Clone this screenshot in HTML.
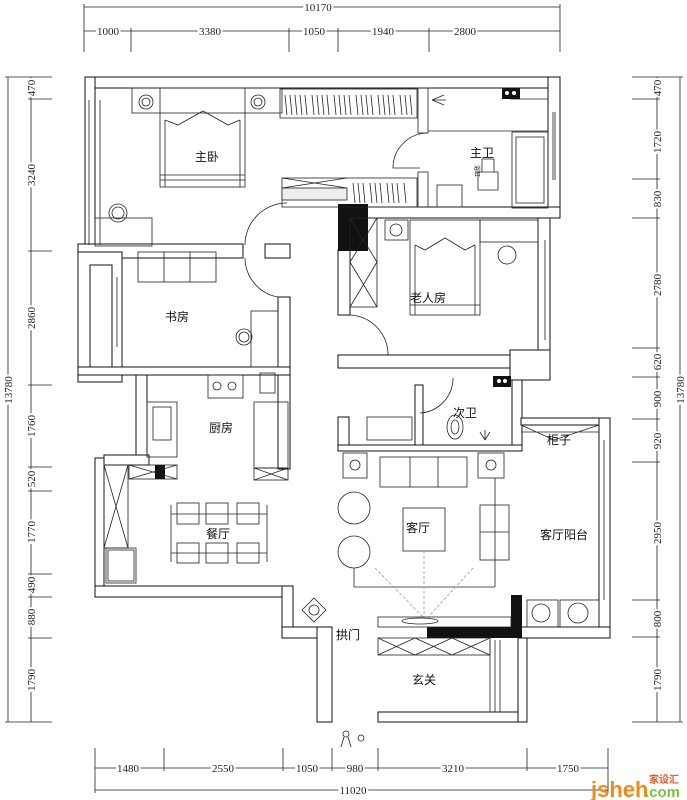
<!DOCTYPE html>
<html><head><meta charset="utf-8"><style>
html,body{margin:0;padding:0;background:#fff;}
svg{display:block;}
.d{font-family:"Liberation Serif",serif;font-size:11px;fill:#222;stroke:#fff;stroke-width:4px;paint-order:stroke;}
.l{font-family:"Liberation Sans","Noto Sans CJK SC",sans-serif;font-size:12px;fill:#111;}
</style></head><body>
<svg width="687" height="800" viewBox="0 0 687 800" xmlns="http://www.w3.org/2000/svg">
<g stroke="#222" stroke-width="0.8" fill="none">
<line x1="84" y1="7" x2="560" y2="7"/>
<line x1="84" y1="31" x2="560" y2="31"/>
<line x1="84" y1="4" x2="84" y2="52"/><line x1="560" y1="4" x2="560" y2="52"/>
<line x1="131" y1="28" x2="131" y2="52"/><line x1="289" y1="28" x2="289" y2="52"/><line x1="338" y1="28" x2="338" y2="52"/><line x1="429" y1="28" x2="429" y2="52"/>
<line x1="95" y1="768" x2="608" y2="768"/>
<line x1="95" y1="790" x2="608" y2="790"/>
<line x1="95" y1="748" x2="95" y2="793"/><line x1="608" y1="748" x2="608" y2="793"/>
<line x1="164" y1="748" x2="164" y2="771"/><line x1="283" y1="748" x2="283" y2="771"/><line x1="332" y1="748" x2="332" y2="771"/><line x1="378" y1="748" x2="378" y2="771"/><line x1="527" y1="748" x2="527" y2="771"/>
<line x1="8" y1="77" x2="8" y2="722"/><line x1="31" y1="77" x2="31" y2="722"/>
<line x1="5" y1="77" x2="52" y2="77"/><line x1="5" y1="722" x2="52" y2="722"/>
<line x1="28" y1="99" x2="52" y2="99"/><line x1="28" y1="251" x2="52" y2="251"/><line x1="28" y1="385" x2="52" y2="385"/><line x1="28" y1="467" x2="52" y2="467"/><line x1="28" y1="491" x2="52" y2="491"/><line x1="28" y1="574" x2="52" y2="574"/><line x1="28" y1="597" x2="52" y2="597"/><line x1="28" y1="638" x2="52" y2="638"/>
<line x1="657" y1="77" x2="657" y2="722"/><line x1="680" y1="77" x2="680" y2="722"/>
<line x1="632" y1="77" x2="683" y2="77"/><line x1="632" y1="722" x2="683" y2="722"/>
<line x1="632" y1="99" x2="660" y2="99"/><line x1="632" y1="179" x2="660" y2="179"/><line x1="632" y1="218" x2="660" y2="218"/><line x1="632" y1="348" x2="660" y2="348"/><line x1="632" y1="377" x2="660" y2="377"/><line x1="632" y1="419" x2="660" y2="419"/><line x1="632" y1="462" x2="660" y2="462"/><line x1="632" y1="600" x2="660" y2="600"/><line x1="632" y1="637" x2="660" y2="637"/>
</g>
<g class="d" text-anchor="middle">
<text x="318" y="11">10170</text>
<text x="108" y="35">1000</text><text x="210" y="35">3380</text><text x="314" y="35">1050</text><text x="383" y="35">1940</text><text x="465" y="35">2800</text>
<text x="128" y="772">1480</text><text x="223" y="772">2550</text><text x="307" y="772">1050</text><text x="355" y="772">980</text><text x="453" y="772">3210</text><text x="568" y="772">1750</text><text x="353" y="794">11020</text>
<text transform="translate(35,88) rotate(-90)">470</text>
<text transform="translate(35,175) rotate(-90)">3240</text>
<text transform="translate(35,318) rotate(-90)">2860</text>
<text transform="translate(35,426) rotate(-90)">1760</text>
<text transform="translate(35,479) rotate(-90)">520</text>
<text transform="translate(35,532) rotate(-90)">1770</text>
<text transform="translate(35,585) rotate(-90)">490</text>
<text transform="translate(35,617) rotate(-90)">880</text>
<text transform="translate(35,680) rotate(-90)">1790</text>
<text transform="translate(12,390) rotate(-90)">13780</text>
<text transform="translate(661,88) rotate(-90)">470</text>
<text transform="translate(661,142) rotate(-90)">1720</text>
<text transform="translate(661,199) rotate(-90)">830</text>
<text transform="translate(661,285) rotate(-90)">2780</text>
<text transform="translate(661,362) rotate(-90)">620</text>
<text transform="translate(661,399) rotate(-90)">900</text>
<text transform="translate(661,441) rotate(-90)">920</text>
<text transform="translate(661,533) rotate(-90)">2950</text>
<text transform="translate(661,619) rotate(-90)">800</text>
<text transform="translate(661,680) rotate(-90)">1790</text>
<text transform="translate(684,390) rotate(-90)">13780</text>
</g>

<g fill="#fff" stroke="#111" stroke-width="1">
<rect x="85" y="77" width="475" height="11"/>
<rect x="85" y="77" width="10" height="170"/>
<rect x="548" y="77" width="12" height="141"/>
<rect x="78" y="244" width="165" height="14"/>
<rect x="265" y="244" width="25" height="14"/>
<rect x="78" y="252" width="44" height="130"/>
<rect x="90" y="265" width="22" height="105"/>
<rect x="278" y="297" width="12" height="172"/>
<rect x="78" y="367" width="212" height="8"/>
<rect x="136" y="375" width="11" height="85"/>
<rect x="338" y="250" width="12" height="65"/>
<rect x="367" y="207" width="193" height="11"/>
<rect x="538" y="218" width="12" height="132"/>
<rect x="338" y="355" width="172" height="13"/>
<rect x="510" y="350" width="40" height="30"/>
<rect x="512" y="380" width="10" height="71"/>
<rect x="338" y="417" width="11" height="34"/>
<rect x="415" y="385" width="8" height="60"/>
<rect x="338" y="445" width="184" height="6"/>
<rect x="95" y="458" width="9" height="139"/>
<rect x="104" y="455" width="45" height="10"/>
<rect x="95" y="586" width="198" height="11"/>
<rect x="282" y="586" width="11" height="52"/>
<rect x="282" y="627" width="50" height="11"/>
<rect x="317" y="627" width="15" height="95"/>
<rect x="378" y="712" width="149" height="10"/>
<rect x="518" y="638" width="9" height="84"/>
<rect x="521" y="418" width="89" height="7"/>
<rect x="599" y="418" width="11" height="220"/>
<rect x="521" y="627" width="89" height="11"/>
</g>
<g fill="#111">
<rect x="338" y="204" width="30" height="47"/>
<rect x="511" y="595" width="11" height="43"/>
<rect x="427" y="627" width="95" height="11"/>
<rect x="502" y="88" width="18" height="11"/>
<rect x="493" y="376" width="18" height="11"/>
<rect x="155" y="465" width="10" height="14"/>
</g>
<g fill="#fff"><circle cx="507" cy="93" r="2"/><circle cx="514" cy="93" r="2"/><circle cx="499" cy="381" r="2"/><circle cx="505" cy="381" r="2"/></g>

<g fill="none" stroke="#222" stroke-width="0.8">
<rect x="132" y="88" width="150" height="25"/>
<rect x="160" y="88" width="85" height="99"/>
<line x1="165" y1="120" x2="165" y2="187"/><line x1="240" y1="120" x2="240" y2="187"/>
<line x1="160" y1="175" x2="245" y2="175"/><line x1="160" y1="180" x2="245" y2="180"/>
<polyline points="165,120 178,125 203,111 228,125 240,120"/>
<circle cx="146" cy="102" r="7"/><circle cx="146" cy="102" r="4"/>
<circle cx="258" cy="102" r="7"/><circle cx="258" cy="102" r="4"/>
<rect x="280" y="89" width="137" height="29"/>
<path d="M285 95 l2 20 M290 95 l2 20 M295 95 l2 20 M300 95 l2 20 M305 95 l2 20 M312 95 l2 20 M317 95 l2 20 M322 95 l2 20 M327 95 l2 20 M334 95 l2 20 M339 95 l2 20 M344 95 l2 20 M349 95 l2 20 M356 95 l2 20 M361 95 l2 20 M366 95 l2 20 M371 95 l2 20 M378 95 l2 20 M383 95 l2 20 M388 95 l2 20 M393 95 l2 20 M400 95 l2 20 M405 95 l2 20 M410 95 l2 20"/>
<rect x="418" y="88" width="10" height="45"/>
<path d="M428 133 A35 35 0 0 0 393 168 L420 168"/>
<line x1="428" y1="131" x2="548" y2="131"/>
<line x1="510" y1="99" x2="548" y2="99"/>
<rect x="512" y="132" width="36" height="76"/><rect x="516" y="137" width="28" height="66"/>
<path d="M432 100 l12 5 M432 100 l12 -5 M432 100 l14 0"/>
<rect x="437" y="185" width="25" height="22"/>
<path d="M478 172 h20 v18 h-20 z M482 172 v-13 h12 v13"/>
<rect x="418" y="172" width="10" height="35"/>
<rect x="282" y="178" width="135" height="29"/>
<path d="M282 178 L347 188 M347 178 L282 188"/>
<rect x="282" y="188" width="65" height="12" fill="#eee"/>
<path d="M353 183 l2 20 M358 183 l2 20 M363 183 l2 20 M370 183 l2 20 M375 183 l2 20 M380 183 l2 20 M387 183 l2 20 M392 183 l2 20 M397 183 l2 20 M404 183 l2 20"/>
<rect x="95" y="218" width="57" height="28"/>
<circle cx="118" cy="213" r="9"/><circle cx="118" cy="213" r="6"/>
<path d="M245 245 A42 42 0 0 1 287 203"/>
<path d="M245 258 A40 40 0 0 0 278 297"/>
<path d="M350 315 A40 40 0 0 1 388 355"/>
<path d="M453 378 A35 35 0 0 1 420 413"/>
<rect x="138" y="252" width="78" height="30"/>
<line x1="164" y1="252" x2="164" y2="282"/><line x1="190" y1="252" x2="190" y2="282"/>
<rect x="251" y="311" width="27" height="56"/>
<circle cx="244" cy="337" r="8"/><circle cx="244" cy="337" r="5"/>
<rect x="350" y="218" width="27" height="89"/>
<path d="M350 218 L377 262 M377 218 L350 262 M350 262 L377 307 M377 262 L350 307"/>
<rect x="385" y="220" width="23" height="20"/><circle cx="396" cy="230" r="6"/>
<rect x="410" y="220" width="70" height="95"/>
<line x1="415" y1="245" x2="415" y2="315"/><line x1="475" y1="245" x2="475" y2="315"/>
<line x1="410" y1="305" x2="480" y2="305"/>
<polyline points="415,245 425,250 445,238 465,250 475,245"/>
<rect x="480" y="220" width="58" height="22"/>
<circle cx="507" cy="255" r="9"/>
<line x1="545" y1="240" x2="545" y2="340"/>
<rect x="208" y="375" width="35" height="23"/>
<circle cx="217" cy="386" r="4"/><circle cx="232" cy="386" r="4"/>
<rect x="260" y="373" width="15" height="20"/>
<rect x="147" y="402" width="30" height="55"/><rect x="153" y="407" width="18" height="33"/>
<rect x="254" y="402" width="34" height="66"/>
<rect x="254" y="468" width="34" height="12"/><path d="M254 468 L288 480 M288 468 L254 480"/>
<rect x="129" y="465" width="48" height="14"/><path d="M129 465 L177 479 M177 465 L129 479"/>
<rect x="104" y="465" width="24" height="83"/><path d="M104 465 L128 548 M128 465 L104 548"/>
<rect x="106" y="548" width="30" height="35"/><rect x="108" y="550" width="26" height="31"/>
<line x1="171" y1="514" x2="267" y2="514"/><line x1="171" y1="553" x2="267" y2="553"/>
<line x1="171" y1="505" x2="171" y2="562"/><line x1="267" y1="505" x2="267" y2="562"/>
<rect x="177" y="503" width="22" height="21"/><rect x="206" y="503" width="22" height="21"/><rect x="237" y="503" width="22" height="21"/>
<rect x="177" y="543" width="22" height="20"/><rect x="206" y="543" width="22" height="20"/><rect x="237" y="543" width="22" height="20"/>
<rect x="367" y="417" width="45" height="23"/>
<ellipse cx="455" cy="427" rx="8" ry="12"/><ellipse cx="455" cy="427" rx="4" ry="7"/>
<path d="M485 440 l-5 -8 M485 440 l5 -8 M485 440 v-10"/>
<rect x="343" y="453" width="24" height="25"/><circle cx="355" cy="465" r="5"/>
<rect x="478" y="453" width="26" height="25"/><circle cx="491" cy="465" r="5"/>
<rect x="380" y="457" width="87" height="30"/>
<line x1="410" y1="457" x2="410" y2="487"/><line x1="438" y1="457" x2="438" y2="487"/>
<circle cx="354" cy="508" r="16"/><circle cx="354" cy="552" r="16"/>
<rect x="403" y="508" width="42" height="43"/>
<rect x="480" y="505" width="29" height="55"/><line x1="480" y1="532" x2="509" y2="532"/>
<line x1="354" y1="587" x2="495" y2="587"/>
<line x1="354" y1="568" x2="354" y2="587"/><line x1="495" y1="478" x2="495" y2="587"/>
<g stroke="#999" stroke-dasharray="3,2"><line x1="375" y1="568" x2="423" y2="617"/><line x1="473" y1="568" x2="428" y2="617"/><line x1="424" y1="551" x2="424" y2="617"/></g>
<rect x="378" y="617" width="133" height="10"/>
<ellipse cx="420" cy="621" rx="18" ry="3"/>
<rect x="378" y="638" width="112" height="17"/>
<path d="M378 638 L415 655 M415 638 L378 655 M415 638 L452 655 M452 638 L415 655 M452 638 L490 655 M490 638 L452 655"/>
<line x1="490" y1="640" x2="490" y2="712"/><line x1="495" y1="640" x2="495" y2="712"/><line x1="500" y1="640" x2="500" y2="712"/>
<rect x="527" y="600" width="31" height="27"/><circle cx="541" cy="613" r="9"/>
<rect x="560" y="600" width="39" height="27"/><circle cx="578" cy="613" r="10"/>
<path d="M521 425 L554 440 L599 425 M521 432 L599 432"/>
<line x1="604" y1="440" x2="604" y2="600"/>
<path d="M314 598 L326 610 L314 622 L302 610 Z"/><circle cx="314" cy="610" r="5"/>
<line x1="553" y1="112" x2="553" y2="180"/><line x1="555" y1="112" x2="555" y2="180"/>
<line x1="117" y1="277" x2="117" y2="347"/>
<line x1="100" y1="100" x2="100" y2="245"/><line x1="89" y1="100" x2="89" y2="245"/>
<circle cx="346" cy="734" r="3"/><path d="M344 737 l-3 10 M348 737 l3 10"/>
<circle cx="361" cy="738" r="3"/>
</g>

<g class="l">
<text x="195" y="161">主卧</text>
<text x="470" y="157">主卫</text>
<text x="165" y="321">书房</text>
<text x="410" y="302">老人房</text>
<text x="209" y="432">厨房</text>
<text x="453" y="417">次卫</text>
<text x="547" y="444">柜子</text>
<text x="206" y="538">餐厅</text>
<text x="406" y="532">客厅</text>
<text x="540" y="539">客厅阳台</text>
<text x="336" y="639">拱门</text>
<text x="412" y="684">玄关</text>
</g>
<text x="527" y="217" font-family="Liberation Sans,Noto Sans CJK SC,sans-serif" font-size="6" transform="rotate(90 527 165)">浴缸</text>
<g font-family="Liberation Sans,sans-serif" font-weight="bold">
<text x="591" y="797" font-size="22" fill="#f08a1a">jsheh</text>
<text x="645" y="797" font-size="15" fill="#7cc142">.com</text>
<text x="649" y="783" font-size="10" fill="#e05a2a" font-family="Noto Sans CJK SC,sans-serif">家设汇</text>
</g>
</svg>
</body></html>
